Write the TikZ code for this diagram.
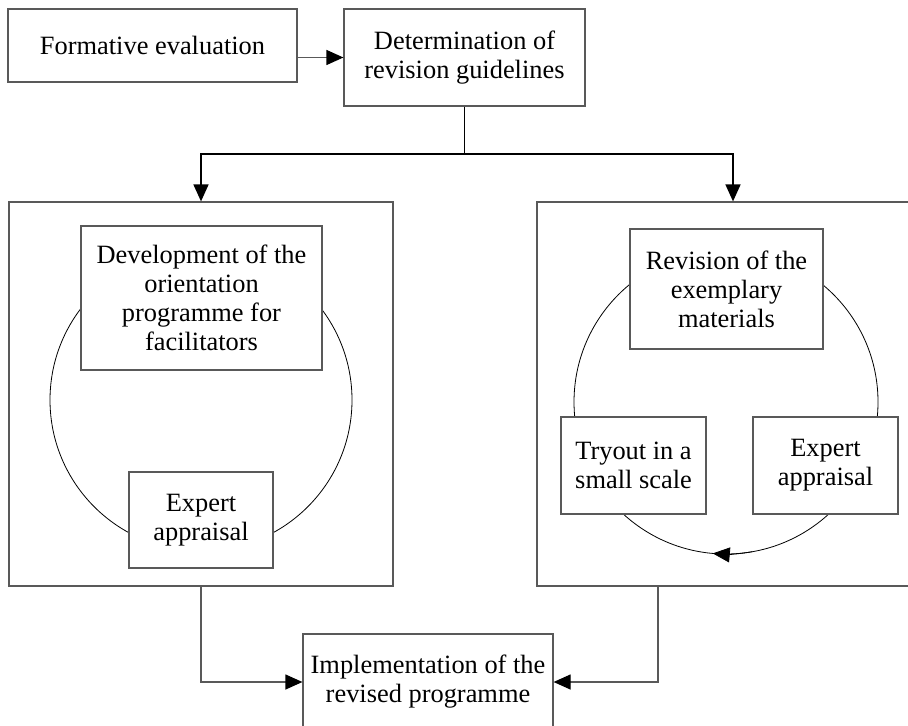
\documentclass[tikz,border=0pt]{standalone}
\usepackage{fontspec}
\setmainfont{Liberation Serif}
\usetikzlibrary{arrows.meta,calc}

\begin{document}
\begin{tikzpicture}[x=0.5pt,y=-0.5pt,
  box/.style={draw=black!65, line width=0.6pt, fill=white, align=center,
    inner sep=0pt, font=\fontsize{13.2}{14.5}\selectfont},
  frame/.style={draw=black!65, line width=0.6pt, inner sep=0pt},
  link/.style={draw=black!65, line width=0.6pt},
  mainlink/.style={draw=black, line width=0.8pt},
  tip/.style={-{Triangle[length=8.5pt,width=7.5pt,color=black]}},
  ring/.style={draw=black, line width=0.4pt}]
\useasboundingbox (0,0) rectangle (908,726);

% top row
\node[box, minimum width=144.5pt, minimum height=36.5pt] (form) at (152.5,45.5) {Formative evaluation};
\node[box, minimum width=120.5pt, minimum height=48.5pt] (det) at (464.5,57.5) {Determination of\\revision guidelines};

% the two large panels
\node[frame, minimum width=192pt, minimum height=192pt] (lbox) at (201,394) {};
\node[frame, minimum width=196pt, minimum height=192pt] (rbox) at (733,394) {};

% cycles inside the panels
\draw[ring] (201,400) circle[radius=75.5pt];
\draw[ring] (726,402) circle[radius=76pt];
\draw[ring, tip] ($(726,402)+(-80:76pt)$) arc[start angle=-80, end angle=-95, radius=76pt];

% left panel contents
\node[box, minimum width=120.5pt, minimum height=72pt] (dev) at (201.5,298)
  {Development of the\\orientation\\programme for\\facilitators};
\node[box, minimum width=72pt, minimum height=48pt] (expl) at (201,520) {Expert\\appraisal};

% right panel contents
\node[box, minimum width=96.5pt, minimum height=60pt] (rev) at (726.5,289)
  {Revision of the\\exemplary\\materials};
\node[box, minimum width=72.5pt, minimum height=48.5pt] (try) at (633.5,465.5) {Tryout in a\\small scale};
\node[box, minimum width=72.5pt, minimum height=48.5pt] (expr) at (825.5,465.5) {Expert\\appraisal};

% final step
\node[box, minimum width=125pt, minimum height=48pt] (impl) at (428,682)
  {Implementation of the\\revised programme};

% connectors
\draw[link, tip] (form.east |- det.west) -- (det.west);
\coordinate (split) at (464.5,154);
\draw[mainlink] (det.south) -- (split);
\draw[mainlink, tip] (split) -| (lbox.north);
\draw[mainlink, tip] (split) -| (rbox.north);
\draw[link, tip] (lbox.south) |- (impl.west);
\coordinate (rout) at (658,586);
\draw[link, tip] (rout) |- (impl.east);
\end{tikzpicture}
\end{document}
